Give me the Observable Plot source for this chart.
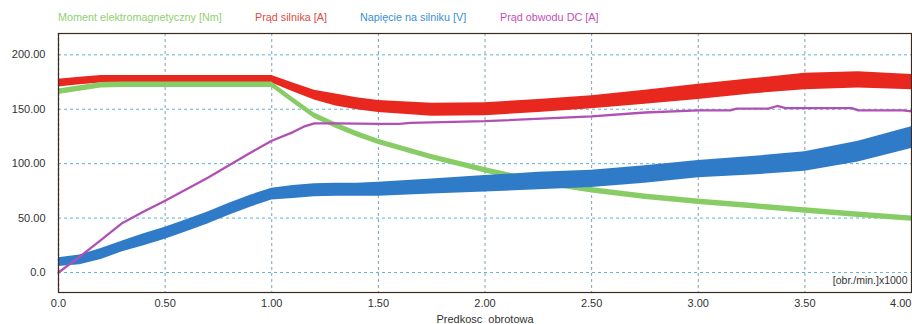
<!DOCTYPE html>
<html><head><meta charset="utf-8">
<script src="https://cdn.jsdelivr.net/npm/d3@7"></script>
<script src="https://cdn.jsdelivr.net/npm/@observablehq/plot@0.6"></script>
<style>
body{margin:0;background:#fff;font-family:"Liberation Sans",Arial,sans-serif;}
#legend{height:28px;position:relative;font-size:10.8px;width:912px;}
#legend span{position:absolute;top:11px;white-space:nowrap;}
#chart svg{display:block;}
</style></head><body>
<div id="legend"></div>
<div id="chart"></div>
<script>
// ---- data ----
const speed = [0,0.1,0.2,0.3,0.4,0.5,0.6,0.7,0.8,0.9,1.0,1.1,1.2,1.3,1.4,1.5,1.75,2.0,2.25,2.5,2.75,3.0,3.25,3.5,3.75,4.0];
const torqueLow  = [163.5,166.5,169.5,170,170,170,170,170,170,170,170,155.5,141.5,132.5,124.5,117.5,103.5,91.5,80.5,73,67,62.5,58.5,54.5,50.5,47];
const torqueHigh = [168.5,171.5,174.5,175,175,175,175,175,175,175,175,160.5,146.5,137.5,129.5,122.5,108.5,96.5,85.5,78,72,67.5,63.5,59.5,55.5,52];
const motorCurLow  = [170.5,172.5,174,174,174,174,174,174,174,174,174,166,158.5,153,149.5,147,143.5,144,147,150.5,154.5,159,164,168,169.5,168];
const motorCurHigh = [177.5,179.5,181,181,181,181,181,181,181,181,181,174,167.5,164,160.5,158,155.5,156,159,162.5,167.5,173,178,183,184.5,182];
const voltLow  = [5.5,7,12,19,24.5,30.5,37.5,44.5,52.5,60,66.5,68,69.5,70,70,70,72,74,76,78,82,87,89.5,93,101.5,114];
const voltHigh = [13.5,16,22,29,35.5,41.5,48.5,55.5,63.5,71,77.5,80,81.5,82,82,83,86,89,92,94,98,103,106.5,111,120.5,134];
const dcSpeed   = [0,0.1,0.2,0.3,0.4,0.5,0.6,0.7,0.8,0.9,1.0,1.1,1.15,1.2,1.3,1.5,1.6,1.65,2.0,2.5,2.75,3.0,3.15,3.18,3.33,3.37,3.41,3.72,3.75,3.96,4.0];
const dcCurrent = [0,14.5,30,45.5,56,66,76.5,87,98.5,110,121,129,134,137,137,136.5,136.5,137.5,139,143.5,147,149,149,150.5,150.5,153,151,151,149,149,148];
const xTicks = [0,0.5,1,1.5,2,2.5,3,3.5,4];
const yTicks = [0,50,100,150,200];
const seriesNames = ["Moment elektromagnetyczny [Nm]","Prąd silnika [A]","Napięcie na silniku [V]","Prąd obwodu DC [A]"];
const xLabel = "Predkosc\u00a0 obrotowa";
const unitLabel = "[obr./min.]x1000";

// ---- styles ----
const colors = ["#88cc66","#e8281e","#2f7bc8","#b050b4"];
const legendLeft = [58,255,360,500];
const legendColors = ["#8fd070","#e04a3e","#3a8fd6","#c050b8"];

const legend = document.getElementById("legend");
seriesNames.forEach((n,i)=>{
  const s=document.createElement("span");
  s.textContent=n; s.style.left=legendLeft[i]+"px"; s.style.color=legendColors[i];
  legend.appendChild(s);
});

const band = (lo,hi)=>speed.map((s,i)=>({s,lo:lo[i],hi:hi[i]}));
const torque = band(torqueLow,torqueHigh);
const motor = band(motorCurLow,motorCurHigh);
const volt = band(voltLow,voltHigh);
const dc = dcSpeed.map((s,i)=>({s,v:dcCurrent[i]}));
const fmt = d => d===0 ? "0.0" : d.toFixed(2);

const chart = Plot.plot({
  width: 912, height: 296,
  marginLeft: 58, marginRight: 1, marginTop: 5, marginBottom: 32,
  style: {fontFamily: "Liberation Sans, Arial, sans-serif", fontSize: "11px", color: "#333", background: "white"},
  x: {domain: [0,4]},
  y: {domain: [-18.4, 219.6]},
  marks: [
    Plot.ruleY(yTicks, {stroke: "#5fb3dc", strokeDasharray: "3,3", strokeWidth: 1}),
    Plot.ruleX(xTicks.slice(1,-1), {stroke: "#7f9fb8", strokeDasharray: "3,3", strokeWidth: 1}),
    Plot.areaY(motor, {x: "s", y1: "lo", y2: "hi", fill: colors[1]}),
    Plot.areaY(torque, {x: "s", y1: "lo", y2: "hi", fill: colors[0]}),
    Plot.areaY(volt, {x: "s", y1: "lo", y2: "hi", fill: colors[2]}),
    Plot.line(dc, {x: "s", y: "v", stroke: colors[3], strokeWidth: 2.3}),
    Plot.ruleX([0], {stroke: "#333", strokeDasharray: "3,2", strokeWidth: 1.2}),
    Plot.frame({stroke: "#3a2a22", strokeWidth: 1.2}),
    Plot.axisY(yTicks, {tickSize: 0, tickPadding: 13, tickFormat: fmt, label: null, fill: "#333"}),
    Plot.axisX(xTicks.slice(0,-1), {tickSize: 0, tickPadding: 7, tickFormat: fmt, label: null, fill: "#333"}),
    Plot.axisX([4], {tickSize: 0, tickPadding: 7, tickFormat: fmt, label: null, textAnchor: "end", fill: "#333"}),
    Plot.text([xLabel], {frameAnchor: "bottom", dy: 30, fontSize: 11, fill: "#333"}),
    Plot.text([unitLabel], {frameAnchor: "bottom-right", dx: -4, dy: -9, textAnchor: "end", fontSize: 10.5, fill: "#333"})
  ]
});
document.getElementById("chart").appendChild(chart);
</script>
</body></html>
